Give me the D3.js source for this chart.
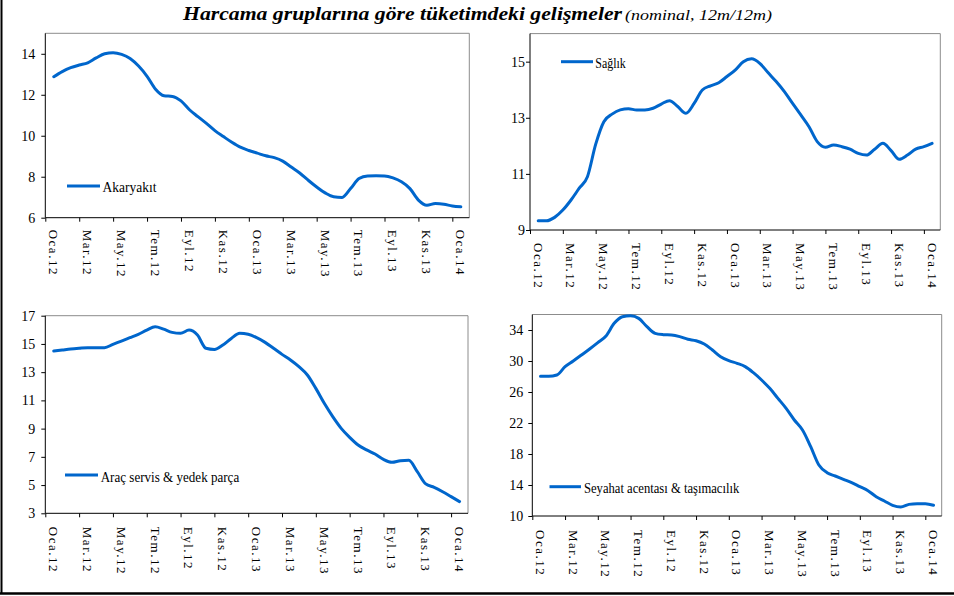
<!DOCTYPE html>
<html>
<head>
<meta charset="utf-8">
<script src="https://cdn.jsdelivr.net/npm/d3@7"></script>
<style>
    body { margin: 0; background: #fff; }
    text { font-family: "Liberation Serif", "Times New Roman", serif; fill: #000; }
    .frame { fill: none; stroke: #8c8c8c; stroke-width: 1; }
    .axis path, .axis line { stroke: #000; stroke-width: 1; }
    .series { fill: none; stroke: #0066cc; stroke-width: 3; stroke-linejoin: round; stroke-linecap: round; }
</style>
</head>
<body>
<svg id="chart" width="954" height="596"></svg>
<script>
// tick labels, every second month (month index from Oca.12)
const tickLabels = ["Oca.12", "Mar.12", "May.12", "Tem.12", "Eyl.12", "Kas.12", "Oca.13",
                    "Mar.13", "May.13", "Tem.13", "Eyl.13", "Kas.13", "Oca.14"];
const tickMonths = [0, 2, 4, 6, 8, 10, 12, 14, 16, 18, 20, 22, 24];

// values, twice a month from Oca.12 to Oca.14 (49 points)
const akaryakit = [12.88, 13.13, 13.32, 13.45, 13.56, 13.8, 14.0, 14.05, 13.97, 13.77,
                   13.4, 12.9, 12.27, 11.95, 11.92, 11.7, 11.27, 10.93, 10.6, 10.25,
                   9.96, 9.68, 9.44, 9.28, 9.15, 9.02, 8.93, 8.76, 8.47, 8.18,
                   7.83, 7.5, 7.21, 7.02, 6.99, 7.42, 7.91, 8.04, 8.05, 8.04,
                   7.94, 7.75, 7.42, 6.86, 6.61, 6.69, 6.66, 6.57, 6.53];
const saglik = [9.33, 9.33, 9.45, 9.71, 10.07, 10.49, 10.9, 12.05, 12.86, 13.13,
                13.28, 13.32, 13.28, 13.28, 13.34, 13.49, 13.61, 13.4, 13.16, 13.51,
                13.99, 14.14, 14.25, 14.47, 14.7, 15.0, 15.1, 14.94, 14.61, 14.29,
                13.93, 13.51, 13.1, 12.68, 12.15, 11.95, 12.03, 11.97, 11.88, 11.73,
                11.67, 11.88, 12.09, 11.83, 11.52, 11.67, 11.88, 11.97, 12.09];
const aracServis = [14.5, 14.57, 14.64, 14.69, 14.73, 14.73, 14.73, 14.97, 15.2, 15.44,
                    15.68, 15.98, 16.22, 16.05, 15.82, 15.75, 15.98, 15.63, 14.69, 14.61,
                    14.92, 15.39, 15.75, 15.68, 15.44, 15.11, 14.69, 14.26, 13.86, 13.39,
                    12.8, 11.85, 10.79, 9.85, 9.02, 8.38, 7.84, 7.49, 7.2, 6.82,
                    6.61, 6.72, 6.75, 5.95, 5.08, 4.84, 4.53, 4.18, 3.83];
const seyahat = [28.02, 28.02, 28.19, 29.27, 30.0, 30.77, 31.55, 32.37, 33.23, 34.86,
                 35.72, 35.85, 35.5, 34.43, 33.57, 33.4, 33.35, 33.14, 32.8, 32.62,
                 32.19, 31.42, 30.56, 30.04, 29.7, 29.27, 28.49, 27.55, 26.47, 25.18,
                 23.89, 22.39, 21.1, 18.95, 16.58, 15.59, 15.16, 14.73, 14.3, 13.78,
                 13.27, 12.49, 11.94, 11.38, 11.16, 11.5, 11.59, 11.59, 11.38];

const panels = [
    { name: "Akaryakıt", values: akaryakit, yDomain: [6, 15], yTicks: [6, 8, 10, 12, 14],
      box: { left: 45.3, right: 469.3, top: 33.3, bottom: 217.7 },
      legend: { x1: 67, x2: 100, y: 186, tx: 102.5, ty: 192, tw: 54 },
      yGap: 10, xGap: 12 },
    { name: "Sağlık", values: saglik, yDomain: [9, 16], yTicks: [9, 11, 13, 15],
      box: { left: 530, right: 940.3, top: 33.6, bottom: 230 },
      legend: { x1: 561, x2: 593, y: 61.7, tx: 595.3, ty: 67.5, tw: 30.5 },
      yGap: 5, xGap: 13 },
    { name: "Araç servis & yedek parça", values: aracServis, yDomain: [3, 17], yTicks: d3.range(3, 18, 2),
      box: { left: 45.3, right: 468, top: 315.7, bottom: 513.3 },
      legend: { x1: 65, x2: 98, y: 475, tx: 100.7, ty: 481.5, tw: 138.5 },
      yGap: 10, xGap: 13.5 },
    { name: "Seyahat acentası & taşımacılık", values: seyahat, yDomain: [10, 36], yTicks: d3.range(10, 35, 4),
      box: { left: 532.3, right: 941.7, top: 314.5, bottom: 516 },
      legend: { x1: 549.5, x2: 581, y: 486.7, tx: 584, ty: 493, tw: 155.3 },
      yGap: 9, xGap: 14 }
];

const svg = d3.select("#chart");

// page frame (left and bottom only)
svg.append("line").attr("x1", 1.5).attr("x2", 1.5).attr("y1", 0).attr("y2", 594)
    .attr("stroke", "#000").attr("stroke-width", 2);
svg.append("line").attr("x1", 0).attr("x2", 954).attr("y1", 593.5).attr("y2", 593.5)
    .attr("stroke", "#000").attr("stroke-width", 2.5);

// title
svg.append("text")
    .attr("x", 183).attr("y", 19.5)
    .attr("font-size", 18).attr("font-weight", "bold").attr("font-style", "italic")
    .attr("textLength", 439).attr("lengthAdjust", "spacingAndGlyphs")
    .text("Harcama gruplarına göre tüketimdeki gelişmeler");
svg.append("text")
    .attr("x", 625).attr("y", 19.5)
    .attr("font-size", 14.5).attr("font-style", "italic")
    .attr("textLength", 147).attr("lengthAdjust", "spacingAndGlyphs")
    .text("(nominal, 12m/12m)");

panels.forEach(p => renderPanel(p));

function renderPanel(p) {
    const b = p.box;
    const x = d3.scaleLinear().domain([-0.5, 24.5]).range([b.left, b.right]);
    const y = d3.scaleLinear().domain(p.yDomain).range([b.bottom, b.top]);

    const g = svg.append("g");

    // top and right gray frame
    g.append("path").attr("class", "frame")
        .attr("d", `M${b.left},${b.top}H${b.right}V${b.bottom}`);

    // y axis
    const yAxis = g.append("g").attr("class", "axis")
        .attr("transform", `translate(${b.left},0)`)
        .call(d3.axisLeft(y).tickValues(p.yTicks).tickFormat(d3.format("d"))
            .tickSize(4).tickSizeOuter(0).tickPadding(p.yGap - 4));
    yAxis.select(".domain").attr("d", `M0,${b.top}V${b.bottom}`);
    yAxis.selectAll("text").attr("font-size", 14).attr("fill", "#000");

    // x axis: ticks at band edges, labels at band centres
    const xAxis = g.append("g").attr("class", "axis")
        .attr("transform", `translate(0,${b.bottom})`)
        .call(d3.axisBottom(x).tickValues(tickMonths.map(m => m - 0.5)).tickSize(4).tickSizeOuter(0).tickFormat(""));
    xAxis.select(".domain").attr("d", `M${b.left},0H${b.right}`);

    g.selectAll(".x-label")
        .data(tickMonths)
        .enter()
        .append("text")
        .attr("class", "x-label")
        .attr("transform", m => `translate(${x(m)},${b.bottom + p.xGap}) rotate(90)`)
        .attr("dy", "0.35em")
        .attr("font-size", 13)
        .attr("letter-spacing", 1.5)
        .text((m, i) => tickLabels[i]);

    // series line
    const line = d3.line()
        .x((d, i) => x(i / 2))
        .y(d => y(d))
        .curve(d3.curveMonotoneX);
    g.append("path").attr("class", "series").attr("d", line(p.values));

    // legend
    const L = p.legend;
    g.append("line").attr("class", "series")
        .attr("x1", L.x1).attr("x2", L.x2).attr("y1", L.y).attr("y2", L.y)
        .style("stroke-linecap", "butt");
    g.append("text")
        .attr("x", L.tx).attr("y", L.ty)
        .attr("font-size", 15)
        .attr("textLength", L.tw).attr("lengthAdjust", "spacingAndGlyphs")
        .text(p.name);
}
</script>
</body>
</html>
